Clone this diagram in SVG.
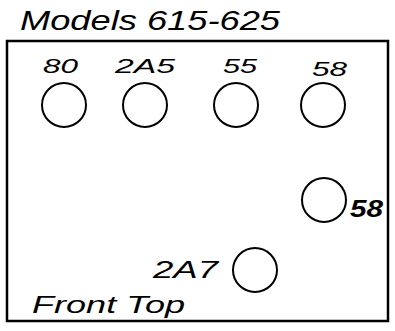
<svg xmlns="http://www.w3.org/2000/svg" width="395" height="331" viewBox="0 0 395 331">
<style>
.t{font-family:"Liberation Sans",Arial,sans-serif;font-style:italic;fill:#000}
.c{fill:none;stroke:#000;stroke-width:2}
</style>
<rect width="395" height="331" fill="#fff"/>
<text class="t" x="20" y="30" font-size="27" textLength="260" lengthAdjust="spacingAndGlyphs">Models 615-625</text>
<rect x="7" y="41" width="381" height="280" fill="none" stroke="#000" stroke-width="2.5"/>
<g id="t80"><text class="t" x="43" y="73" font-size="21" textLength="35" lengthAdjust="spacingAndGlyphs">80</text><circle class="c" cx="64" cy="105" r="22"/></g>
<g id="t2a5"><text class="t" x="115" y="73" font-size="21" textLength="60" lengthAdjust="spacingAndGlyphs">2A5</text><circle class="c" cx="145" cy="105" r="22"/></g>
<g id="t55"><text class="t" x="223" y="73" font-size="21" textLength="34" lengthAdjust="spacingAndGlyphs">55</text><circle class="c" cx="236" cy="105" r="22"/></g>
<g id="t58a"><text class="t" x="312" y="76" font-size="21" textLength="35" lengthAdjust="spacingAndGlyphs">58</text><circle class="c" cx="323" cy="105" r="22"/></g>
<g id="t58b"><circle class="c" cx="324" cy="200" r="22"/><text class="t" x="350" y="217" font-size="23" font-weight="bold" textLength="33" lengthAdjust="spacingAndGlyphs">58</text></g>
<g id="t2a7"><text class="t" x="153" y="278" font-size="24" textLength="65" lengthAdjust="spacingAndGlyphs">2A7</text><circle class="c" cx="255" cy="270" r="22"/></g>
<text class="t" x="32" y="313" font-size="24" textLength="153" lengthAdjust="spacingAndGlyphs">Front Top</text>
</svg>
